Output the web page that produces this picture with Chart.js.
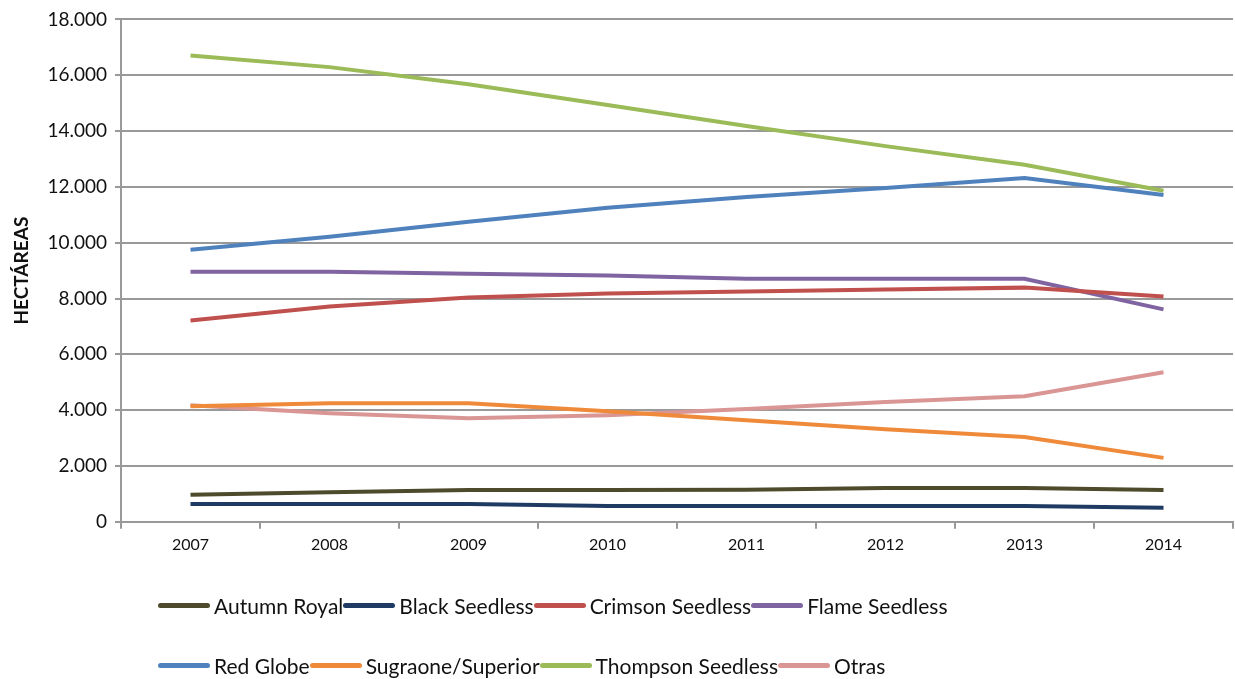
<!DOCTYPE html>
<html>
<head>
<meta charset="utf-8">
<script src="https://cdn.jsdelivr.net/npm/chart.js@4"></script>
<style>
  html, body { margin: 0; padding: 0; background: #fff; }
  #wrap { position: relative; width: 1235px; height: 679px; }
  #legend { position: absolute; left: 158px; top: 0; font-family: Lato, 'Open Sans', sans-serif; font-size: 21px; color: #111; }
  .row { position: absolute; left: 0; white-space: nowrap; display: flex; align-items: center; height: 26px; }
  .item { display: flex; align-items: center; }
  .sw { display: inline-block; width: 52px; height: 5px; border-radius: 3px; margin-right: 4px; }
</style>
</head>
<body>
<div id="wrap">
  <canvas id="chart" width="1235" height="679"></canvas>
  <div id="legend"></div>
</div>
<script>
// Años
const years = ['2007', '2008', '2009', '2010', '2011', '2012', '2013', '2014'];

// Hectáreas por variedad
const autumnRoyal = [970, 1060, 1140, 1140, 1150, 1210, 1210, 1140];
const blackSeedless = [640, 640, 640, 570, 570, 570, 570, 500];
const crimsonSeedless = [7210, 7710, 8040, 8180, 8250, 8320, 8390, 8070];
const flameSeedless = [8960, 8960, 8890, 8820, 8710, 8710, 8710, 7610];
const redGlobe = [9750, 10210, 10750, 11250, 11640, 11960, 12320, 11710];
const sugraone = [4140, 4250, 4250, 3960, 3640, 3320, 3040, 2290];
const thompson = [16710, 16290, 15680, 14930, 14180, 13460, 12790, 11860];
const otras = [4180, 3890, 3710, 3820, 4040, 4290, 4500, 5360];

const seriesNames = ['Autumn Royal', 'Black Seedless', 'Crimson Seedless', 'Flame Seedless',
                     'Red Globe', 'Sugraone/Superior', 'Thompson Seedless', 'Otras'];
const seriesData = [autumnRoyal, blackSeedless, crimsonSeedless, flameSeedless,
                    redGlobe, sugraone, thompson, otras];
const seriesColors = ['#4E4A2C', '#1F3B64', '#C0504D', '#8064A2',
                      '#4F81BD', '#EE8A3A', '#9BBB59', '#D99694'];

const yTicks = [0, 2000, 4000, 6000, 8000, 10000, 12000, 14000, 16000, 18000];

const gridColor = '#999999';
const font = "Lato, 'Open Sans', sans-serif";

const datasets = seriesNames.map((name, i) => ({
    label: name,
    data: seriesData[i],
    borderColor: seriesColors[i],
    backgroundColor: seriesColors[i],
    borderWidth: 4,
    pointRadius: 0,
    tension: 0,
    fill: false
}));

const chart = new Chart(document.getElementById('chart'), {
    type: 'line',
    data: { labels: years, datasets: datasets },
    options: {
        responsive: false,
        animation: false,
        layout: { padding: { top: 8, right: 2, bottom: 119, left: 0 } },
        plugins: { legend: { display: false }, tooltip: { enabled: false } },
        scales: {
            x: {
                offset: true,
                grid: { offset: true, drawOnChartArea: false, drawTicks: true, tickLength: 7, color: gridColor, lineWidth: 2 },
                border: { color: gridColor, width: 2 },
                ticks: { color: '#111', font: { family: font, size: 16 }, padding: 6, maxRotation: 0 }
            },
            y: {
                min: 0,
                max: 18000,
                afterBuildTicks: s => { s.ticks = yTicks.map(v => ({ value: v })); },
                afterFit: s => { s.width = 121; },
                grid: { color: gridColor, lineWidth: 2, tickLength: 6 },
                border: { color: gridColor, width: 2 },
                ticks: {
                    color: '#111',
                    font: { family: font, size: 19 },
                    padding: 8,
                    callback: v => v === 0 ? '0' : Number(v).toLocaleString('de-DE')
                },
                title: {
                    display: true,
                    text: 'HECTÁREAS',
                    color: '#111',
                    font: { family: font, size: 19, weight: 'bold' },
                    padding: { top: 10, bottom: 0 }
                }
            }
        }
    }
});

// Leyenda en dos filas
const legend = document.getElementById('legend');
const rows = [[0, 1, 2, 3], [4, 5, 6, 7]];
const rowTops = [592, 652];
rows.forEach((idxs, r) => {
    const row = document.createElement('div');
    row.className = 'row';
    row.style.top = rowTops[r] + 'px';
    idxs.forEach(i => {
        const item = document.createElement('span');
        item.className = 'item';
        item.innerHTML = `<span class="sw" style="background:${seriesColors[i]}"></span>${seriesNames[i]}`;
        row.appendChild(item);
    });
    legend.appendChild(row);
});
</script>
</body>
</html>
